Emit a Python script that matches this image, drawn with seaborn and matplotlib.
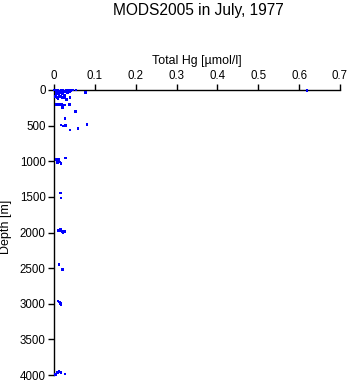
import matplotlib
matplotlib.use("Agg")
import matplotlib.pyplot as plt
import seaborn as sns
import pandas as pd

hg = [0.002, 0.005, 0.008, 0.010, 0.012, 0.015, 0.018, 0.020, 0.022, 0.025,
      0.028, 0.030, 0.033, 0.035, 0.038, 0.040, 0.045, 0.054, 0.077, 0.619,
      0.006, 0.012, 0.020, 0.025,
      0.003, 0.008, 0.015, 0.020, 0.025, 0.039, 0.030, 0.010,
      0.007, 0.012, 0.018, 0.025, 0.037,
      0.020, 0.052, 0.027,
      0.017, 0.022, 0.028, 0.081, 0.059, 0.039,
      0.007, 0.010, 0.014, 0.017, 0.012, 0.029, 0.009,
      0.015, 0.017,
      0.015, 0.010, 0.015, 0.020, 0.027, 0.022,
      0.012, 0.020,
      0.010, 0.013, 0.015, 0.017,
      0.003, 0.008, 0.012, 0.017, 0.027]
depth = [0, 5, 10, 0, 20, 30, 10, 0, 40, 25,
         15, 0, 30, 10, 20, 5, 0, 0, 40, 5,
         50, 60, 50, 70,
         90, 100, 95, 110, 100, 100, 130, 120,
         200, 205, 200, 210, 200,
         250, 300, 395,
         490, 505, 500, 480, 535, 560,
         980, 1000, 1010, 1030, 970, 955, 1020,
         1445, 1515,
         1950, 1975, 1980, 1990, 1985, 2000,
         2445, 2515,
         2960, 2975, 3000, 3010,
         3995, 3960, 3950, 3965, 3985]

xticks = [0, 0.1, 0.2, 0.3, 0.4, 0.5, 0.6, 0.7]
xticklabels = ["0", "0.1", "0.2", "0.3", "0.4", "0.5", "0.6", "0.7"]
yticks = [0, 500, 1000, 1500, 2000, 2500, 3000, 3500, 4000]

df = pd.DataFrame({"hg": hg, "depth": depth})

sns.set_style("white")
plt.rcParams['font.family'] = ['Liberation Sans', 'DejaVu Sans']
plt.rcParams['text.color'] = 'black'
plt.rcParams['axes.labelcolor'] = 'black'

fig = plt.figure(figsize=(3.5, 3.84), dpi=100)
ax = fig.add_axes([54/350, 1 - 375/384, (340-54)/350, (375-90)/384])
sns.scatterplot(data=df, x="hg", y="depth", ax=ax, marker="s", s=4,
                color="#0000ff", edgecolor="none", linewidth=0, clip_on=False,
                zorder=5)
ax.set_xlim(0, 0.7)
ax.set_ylim(4000, 0)
ax.xaxis.tick_top()
ax.xaxis.set_label_position("top")
ax.set_xticks(xticks)
ax.set_xticklabels(xticklabels)
ax.set_yticks(yticks)
ax.tick_params(axis="both", direction="out", length=4, width=1, color="black",
               labelsize=8.3, pad=2, labelcolor="black")
ax.tick_params(axis="x", top=True, bottom=False)
ax.tick_params(axis="y", left=True, right=False)
for side in ["right", "bottom"]:
    ax.spines[side].set_visible(False)
for side in ["left", "top"]:
    ax.spines[side].set_color("black")
    ax.spines[side].set_linewidth(1)
ax.set_xlabel("Total Hg [\u00b5mol/l]", fontsize=8.9, labelpad=4, color="black")
ax.set_ylabel("Depth [m]", fontsize=9, color="black")
ax.yaxis.set_label_coords(-(54 - 12) / 286, 0.5 - (227 - 232.5) / 285)
fig.text(198/350, 1 - 10/384, "MODS2005 in July, 1977", ha="center", va="center",
         fontsize=11.2, color="black")
fig.savefig("out.png", dpi=100)
